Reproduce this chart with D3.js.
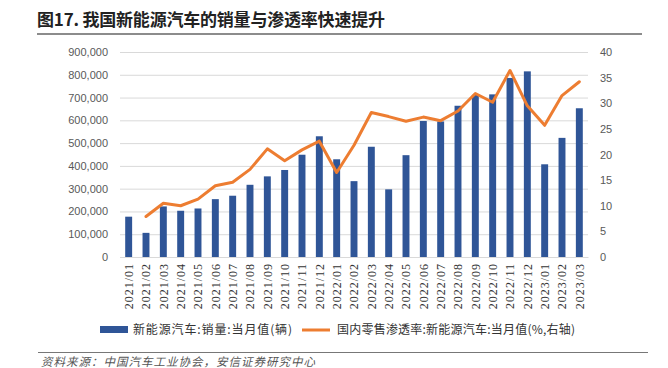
<!DOCTYPE html>
<html>
<head>
<meta charset="utf-8">
<script src="https://cdn.jsdelivr.net/npm/d3@7"></script>
<style>
    body { margin: 0; background: #fff; }
    svg { display: block; }
</style>
</head>
<body>
<div id="chart"></div>
<script>
// Chart data
const months = [
    '2021/01', '2021/02', '2021/03', '2021/04', '2021/05', '2021/06', '2021/07', '2021/08', '2021/09',
    '2021/10', '2021/11', '2021/12', '2022/01', '2022/02', '2022/03', '2022/04', '2022/05', '2022/06',
    '2022/07', '2022/08', '2022/09', '2022/10', '2022/11', '2022/12', '2023/01', '2023/02', '2023/03'
];
// 新能源汽车:销量:当月值(辆)
const sales = [
    177000, 106000, 222000, 203000, 213000, 254000, 269000, 317000, 354000,
    382000, 449000, 530000, 429000, 333000, 484000, 297000, 447000, 597000,
    595000, 664000, 712000, 714000, 786000, 815000, 407000, 523000, 653000
];
// 国内零售渗透率:新能源汽车:当月值(%)
const penetration = [
    null, 7.9, 10.5, 10.0, 11.3, 13.9, 14.6, 17.1, 21.1,
    18.8, 20.9, 22.6, 16.5, 21.8, 28.2, 27.4, 26.5, 27.3,
    26.6, 28.5, 31.9, 30.2, 36.4, 29.5, 25.7, 31.5, 34.2
];
const leftTicks = [0, 100000, 200000, 300000, 400000, 500000, 600000, 700000, 800000, 900000];
const rightTicks = [0, 5, 10, 15, 20, 25, 30, 35, 40];

const titleText = '图17. 我国新能源汽车的销量与渗透率快速提升';
const barLabel = '新能源汽车:销量:当月值(辆)';
const lineLabel = '国内零售渗透率:新能源汽车:当月值(%,右轴)';
const sourceText = '资料来源：中国汽车工业协会，安信证券研究中心';

const width = 668, height = 368;
const plot = { left: 120, right: 588, top: 52, bottom: 257 };
const barColor = '#2F5597';
const lineColor = '#ED7D31';
const cjkFont = '"Noto Sans CJK SC", sans-serif';

const svg = d3.select('#chart')
    .append('svg')
    .attr('width', width)
    .attr('height', height);

svg.append('rect').attr('width', width).attr('height', height).attr('fill', '#fff');

// Title
svg.append('text')
    .attr('x', 37)
    .attr('y', 26)
    .attr('font-family', cjkFont)
    .attr('font-size', 17)
    .attr('font-weight', 'bold')
    .attr('fill', '#222')
    .attr('textLength', 348)
    .attr('lengthAdjust', 'spacing')
    .text(titleText);

svg.append('line')
    .attr('x1', 37).attr('x2', 642)
    .attr('y1', 34).attr('y2', 34)
    .attr('stroke', '#666')
    .attr('stroke-width', 1.3);

// Scales
const x = d3.scaleBand()
    .domain(months)
    .range([plot.left, plot.right])
    .paddingInner(0.6)
    .paddingOuter(0.3);

const yLeft = d3.scaleLinear()
    .domain([0, 900000])
    .range([plot.bottom, plot.top]);

const yRight = d3.scaleLinear()
    .domain([0, 40])
    .range([plot.bottom, plot.top]);

// Left axis with gridlines
const leftAxis = svg.append('g')
    .attr('transform', `translate(${plot.left},0)`)
    .call(d3.axisLeft(yLeft)
        .tickValues(leftTicks)
        .tickFormat(d3.format(','))
        .tickSizeInner(-(plot.right - plot.left))
        .tickSizeOuter(0)
        .tickPadding(12));
leftAxis.select('.domain').remove();
leftAxis.selectAll('.tick line').attr('stroke', '#d9d9d9');
leftAxis.selectAll('.tick text')
    .attr('font-family', '"Liberation Sans", Arial, sans-serif')
    .attr('font-size', 11)
    .attr('fill', '#595959');

// Right axis
const rightAxis = svg.append('g')
    .attr('transform', `translate(${plot.right},0)`)
    .call(d3.axisRight(yRight)
        .tickValues(rightTicks)
        .tickSize(0)
        .tickPadding(12));
rightAxis.select('.domain').remove();
rightAxis.selectAll('.tick text')
    .attr('font-family', '"Liberation Sans", Arial, sans-serif')
    .attr('font-size', 11)
    .attr('fill', '#595959');

// Bottom axis
const bottomAxis = svg.append('g')
    .attr('transform', `translate(0,${plot.bottom})`)
    .call(d3.axisBottom(x).tickSize(0));
bottomAxis.select('.domain').attr('stroke', '#d9d9d9');
bottomAxis.selectAll('.tick text')
    .attr('transform', 'rotate(-90)')
    .attr('text-anchor', 'end')
    .attr('x', -6)
    .attr('y', 0)
    .attr('dy', '0.35em')
    .attr('font-family', '"Liberation Serif", "Times New Roman", serif')
    .attr('font-size', 12)
    .attr('letter-spacing', 1)
    .attr('fill', '#333');

// Bars
svg.append('g')
    .selectAll('rect')
    .data(months)
    .enter()
    .append('rect')
    .attr('x', d => x(d))
    .attr('width', x.bandwidth())
    .attr('y', (d, i) => yLeft(sales[i]))
    .attr('height', (d, i) => plot.bottom - yLeft(sales[i]))
    .attr('fill', barColor);

// Penetration line
const line = d3.line()
    .defined(d => d[1] != null)
    .x(d => x(d[0]) + x.bandwidth() / 2)
    .y(d => yRight(d[1]));

svg.append('path')
    .datum(months.map((m, i) => [m, penetration[i]]))
    .attr('d', line)
    .attr('fill', 'none')
    .attr('stroke', lineColor)
    .attr('stroke-width', 3)
    .attr('stroke-linejoin', 'round')
    .attr('stroke-linecap', 'round');

// Legend
const legend = svg.append('g')
    .attr('font-family', cjkFont)
    .attr('font-size', 12)
    .attr('fill', '#333');

legend.append('rect')
    .attr('x', 100).attr('y', 326)
    .attr('width', 28).attr('height', 7)
    .attr('fill', barColor);
legend.append('text')
    .attr('x', 133).attr('y', 330)
    .attr('dy', '0.35em')
    .attr('textLength', 159)
    .attr('lengthAdjust', 'spacing')
    .text(barLabel);

legend.append('line')
    .attr('x1', 302).attr('x2', 330)
    .attr('y1', 330).attr('y2', 330)
    .attr('stroke', lineColor)
    .attr('stroke-width', 3);
legend.append('text')
    .attr('x', 337).attr('y', 330)
    .attr('dy', '0.35em')
    .attr('textLength', 238)
    .attr('lengthAdjust', 'spacing')
    .text(lineLabel);

// Source note
svg.append('line')
    .attr('x1', 38).attr('x2', 648)
    .attr('y1', 352.5).attr('y2', 352.5)
    .attr('stroke', '#777')
    .attr('stroke-width', 1);

svg.append('text')
    .attr('x', 41)
    .attr('y', 362)
    .attr('dy', '0.35em')
    .attr('font-family', cjkFont)
    .attr('font-size', 11.5)
    .attr('font-style', 'italic')
    .attr('letter-spacing', 1)
    .attr('fill', '#555')
    .text(sourceText);
</script>
</body>
</html>
